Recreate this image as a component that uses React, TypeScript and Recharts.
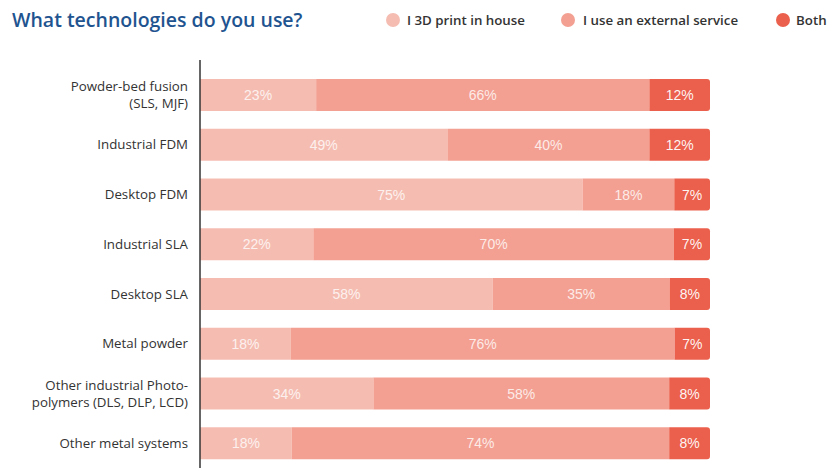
import React from "react";
import { BarChart, Bar, XAxis, YAxis } from "recharts";

const categories = [
  "Powder-bed fusion\n(SLS, MJF)",
  "Industrial FDM",
  "Desktop FDM",
  "Industrial SLA",
  "Desktop SLA",
  "Metal powder",
  "Other industrial Photo-\npolymers (DLS, DLP, LCD)",
  "Other metal systems",
];
const inHouse = [23, 49, 75, 22, 58, 18, 34, 18];
const external = [66, 40, 18, 70, 35, 76, 58, 74];
const both = [12, 12, 7, 7, 8, 7, 8, 8];

const seriesNames = ["I 3D print in house", "I use an external service", "Both"];
const colors = ["#F5BDB2", "#F3A092", "#EB604C"];

const data = categories.map((c, i) => ({
  name: c,
  inHouse: inHouse[i],
  external: external[i],
  both: both[i],
}));

const valueArrays = [inHouse, external, both];

const makeLabel = (k: number) => (props: any) => {
  const { x, y, width, height, index } = props;
  const v = valueArrays[k][index];
  return (
    <text
      x={x + width / 2}
      y={y + height / 2}
      textAnchor="middle"
      dominantBaseline="central"
      fill="#ffffff"
      fillOpacity={k === 2 ? 0.95 : 0.8}
      fontFamily="'Liberation Sans', Arial, sans-serif"
      fontSize={14}
    >
      {v}%
    </text>
  );
};

const CatTick = (props: any) => {
  const { x, y, payload } = props;
  const lines = String(payload.value).split("\n");
  const lh = 17;
  const start = y - ((lines.length - 1) * lh) / 2;
  return (
    <g>
      {lines.map((l, i) => (
        <text
          key={i}
          x={x}
          y={start + i * lh}
          dy="0.35em"
          textAnchor="end"
          fill="#333333"
          fontFamily="'Open Sans', sans-serif"
          fontSize={13.3}
        >
          {l}
        </text>
      ))}
    </g>
  );
};

const legendPos = [
  { cx: 393, tx: 407 },
  { cx: 568, tx: 583 },
  { cx: 783, tx: 796 },
];

export default function App() {
  return (
    <div style={{ position: "absolute", left: 0, top: 0, width: 829, height: 468, background: "#fff", overflow: "hidden" }}>
      <div
        style={{
          position: "absolute",
          left: 12,
          top: 6,
          fontFamily: "'Open Sans', sans-serif",
          fontWeight: 600,
          fontSize: 19.5,
          color: "#1F5490",
          whiteSpace: "nowrap",
          lineHeight: "28px",
        }}
      >
        What technologies do you use?
      </div>
      {seriesNames.map((n, i) => (
        <React.Fragment key={n}>
          <div
            style={{
              position: "absolute",
              left: legendPos[i].cx - 7,
              top: 13,
              width: 14,
              height: 14,
              borderRadius: 7,
              background: colors[i],
            }}
          />
          <div
            style={{
              position: "absolute",
              left: legendPos[i].tx,
              top: 10,
              fontFamily: "'Open Sans', sans-serif",
              fontWeight: 600,
              fontSize: 13.3,
              color: "#333",
              whiteSpace: "nowrap",
              lineHeight: "20px",
            }}
          >
            {n}
          </div>
        </React.Fragment>
      ))}
      <div style={{ position: "absolute", left: 0, top: 0 }}>
        <BarChart
          width={829}
          height={468}
          data={data}
          layout="vertical"
          stackOffset="expand"
          barSize={32}
          margin={{ top: 60, right: 119, bottom: 0, left: 0 }}
        >
          <XAxis type="number" hide domain={[0, 1]} />
          <YAxis
            type="category"
            dataKey="name"
            width={200}
            tickLine={false}
            tickSize={0}
            tickMargin={12}
            axisLine={{ stroke: "#333", strokeWidth: 1.5 }}
            padding={{ top: 10, bottom: 0 }}
            tick={<CatTick />}
            interval={0}
          />
          <Bar dataKey="inHouse" stackId="a" fill={colors[0]} isAnimationActive={false} label={makeLabel(0)} />
          <Bar dataKey="external" stackId="a" fill={colors[1]} isAnimationActive={false} label={makeLabel(1)} />
          <Bar dataKey="both" stackId="a" fill={colors[2]} radius={[0, 3, 3, 0]} isAnimationActive={false} label={makeLabel(2)} />
        </BarChart>
      </div>
    </div>
  );
}
